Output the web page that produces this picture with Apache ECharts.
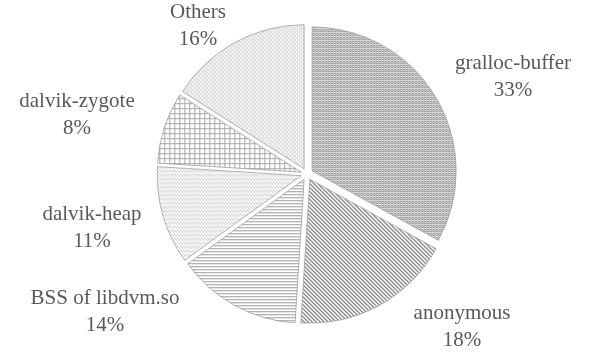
<!DOCTYPE html>
<html>
<head>
<meta charset="utf-8">
<script src="https://cdn.jsdelivr.net/npm/echarts@6/dist/echarts.min.js"></script>
<style>
  html, body { margin: 0; padding: 0; background: #ffffff; }
  #chart { width: 595px; height: 355px; }
</style>
</head>
<body>
<div id="chart"></div>
<script>
// Memory usage breakdown by mapping type
const categories = ['gralloc-buffer', 'anonymous', 'BSS of libdvm.so', 'dalvik-heap', 'dalvik-zygote', 'Others'];
const shares = [33, 18, 14, 11, 8, 16];

// Builds a repeating fill tile from a small bitmap of 0/1 cells
function makeTile(rows, ink, paper) {
  const h = rows.length, w = rows[0].length;
  const c = document.createElement('canvas');
  c.width = w; c.height = h;
  const g = c.getContext('2d');
  g.fillStyle = paper; g.fillRect(0, 0, w, h);
  g.fillStyle = ink;
  for (let y = 0; y < h; y++) {
    for (let x = 0; x < w; x++) {
      if (rows[y][x] === '1') g.fillRect(x, y, 1, 1);
    }
  }
  return { image: c, repeat: 'repeat' };
}

const fills = [
  // fine check
  makeTile(['101', '010', '101', '000'], '#9a9a9a', '#d6d6d6'),
  // downward diagonal stripes
  makeTile(['1100', '0110', '0011', '1001'], '#8e8e8e', '#ffffff'),
  // horizontal lines
  makeTile(['1', '0', '0'], '#9a9a9a', '#ffffff'),
  // small weave
  makeTile(['100100', '010010', '001001', '000000'], '#b4b4b4', '#ffffff'),
  // small grid
  makeTile(['11111', '10000', '10000', '10000', '10000'], '#a8a8a8', '#ffffff'),
  // light trellis
  makeTile(['1010', '0100', '1010', '0001'], '#c4c4c4', '#ffffff')
];

// Caption centres (px) for each slice's two-line label
const labelAnchors = [[513, 77], [462, 327], [105, 312], [92, 228], [77, 115], [198, 26]];

const chart = echarts.init(document.getElementById('chart'), null, { renderer: 'canvas' });

chart.setOption({
  animation: false,
  backgroundColor: '#ffffff',
  series: [{
    type: 'pie',
    center: [307, 174],
    radius: 144,
    startAngle: 90,
    clockwise: true,
    selectedMode: 'multiple',
    selectedOffset: 6,
    itemStyle: { borderColor: '#a0a0a0', borderWidth: 0.8 },
    emphasis: { disabled: true },
    select: { itemStyle: { borderColor: '#a0a0a0', borderWidth: 0.8 } },
    label: { show: false },
    labelLine: { show: false },
    data: categories.map((name, i) => ({
      name: name,
      value: shares[i],
      selected: true,
      itemStyle: { color: fills[i] }
    }))
  }],
  graphic: categories.map((name, i) => ({
    type: 'text',
    silent: true,
    style: {
      text: name + '\n' + shares[i] + '%',
      x: labelAnchors[i][0],
      y: labelAnchors[i][1],
      align: 'center',
      verticalAlign: 'middle',
      font: '21px "Liberation Serif"',
      lineHeight: 27,
      fill: '#595959'
    }
  }))
});
</script>
</body>
</html>
